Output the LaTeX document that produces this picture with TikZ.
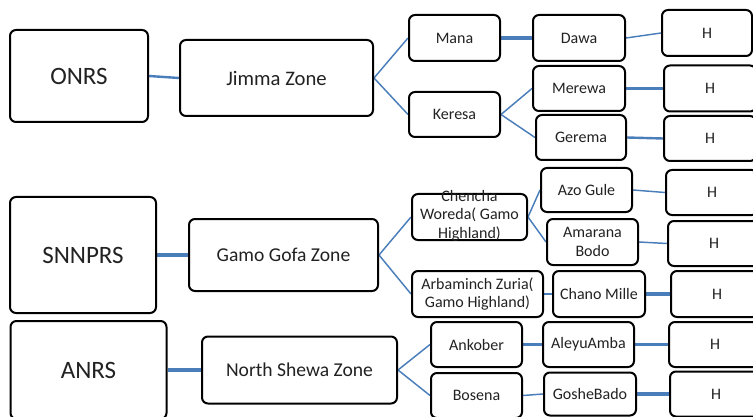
\documentclass[tikz,border=0pt]{standalone}
\usepackage{fontspec}
\setmainfont{Carlito}
\usetikzlibrary{backgrounds}
\definecolor{link}{RGB}{74,126,187}
\definecolor{ink}{RGB}{34,34,34}
\begin{document}
\begin{tikzpicture}[x=0.75pt,y=-0.75pt,
  box/.style={draw=black, line width=1.5pt, rounded corners=4.5pt, fill=white,
    inner sep=0pt, text=ink, align=center, font=\fontsize{12}{13.9}\selectfont},
  sz/.style 2 args={minimum width=#1*0.75pt, minimum height=#2*0.75pt},
  region/.style={font=\fontsize{18.75}{22}\selectfont},
  zone/.style={font=\fontsize{14.7}{17}\selectfont},
  lbl/.style={inner sep=0pt, text=ink, align=center, font=\fontsize{12}{13.9}\selectfont},
  thin/.style={draw=link, line width=1.1pt},
  mid/.style={draw=link, line width=1.8pt},
  wide/.style={draw=link, line width=2.6pt}]
\useasboundingbox (0,0) rectangle (753,417);
\clip (0,0) rectangle (753,417);

% --- ONRS branch
\node[box, region, sz={138}{92}] (onrs) at (79,76) {ONRS};
\node[box, zone, sz={193}{76}, font=\fontsize{15.5}{18}\selectfont] (jimma) at (276.5,78) {Jimma Zone};
\node[box, sz={91}{46}] (mana) at (454.5,38) {Mana};
\node[box, sz={92}{46}] (dawa) at (579,38) {Dawa};
\node[box, sz={90}{46}] (h1) at (707,33) {H};
\node[box, sz={91}{45}] (keresa) at (454.5,114.5) {Keresa};
\node[box, sz={92}{45}] (merewa) at (579,88.5) {Merewa};
\node[box, sz={90}{45}] (gerema) at (581,137.5) {Gerema};
\node[box, sz={92}{46}] (h2) at (710,88.5) {H};
\node[box, sz={92}{45}] (h3) at (710,138.5) {H};

% --- SNNPRS branch
\node[box, region, sz={146}{116}] (snnprs) at (83,255) {SNNPRS};
\node[box, zone, sz={189}{72}] (gamo) at (283.5,255) {Gamo Gofa Zone};
\node[box, sz={115}{46}] (chencha) at (469.5,217) {};
\node[lbl] (chenchatxt) at (469.5,215.5) {Chencha\\Woreda( Gamo\\Highland)};
\node[box, sz={91}{44}] (azo) at (586.5,190) {Azo Gule};
\node[box, sz={92}{45}] (h4) at (712,192.5) {H};
\node[box, sz={91}{46}] (amarana) at (592.5,242) {Amarana\\Bodo};
\node[box, sz={92}{45}] (h5) at (714,243.5) {H};
\node[box, sz={131}{46}] (arba) at (477.5,294) {Arbaminch Zuria(\\Gamo Highland)};
\node[box, sz={92}{46}] (chano) at (599,294) {Chano Mille};
\node[box, sz={92}{46}] (h6) at (717,294) {H};

% --- ANRS branch
\node[box, region, sz={156}{98}] (anrs) at (88.5,370) {ANRS};
\node[box, zone, sz={195}{67}] (shewa) at (299.5,370) {North Shewa Zone};
\node[box, sz={91}{45}] (ankober) at (476.5,344.5) {Ankober};
\node[box, sz={91}{45}] (aleyu) at (588.5,344.5) {AleyuAmba};
\node[box, sz={92}{45}] (h7) at (715,344.5) {H};
\node[box, sz={91}{45}] (bosena) at (476.5,395.5) {Bosena};
\node[box, sz={92}{43}] (goshe) at (590,394) {GosheBado};
\node[box, sz={92}{45}] (h8) at (716,394) {H};

\begin{pgfonlayer}{background}
  % ONRS
  \draw[mid] (onrs.east) -- (jimma.west);
  \draw[thin] (jimma.east) -- (mana.west);
  \draw[thin] (jimma.east) -- (keresa.west);
  \draw[wide] (mana.east) -- (dawa.west);
  \draw[thin] (dawa.east) -- (h1.west);
  \draw[thin] (keresa.east) -- (merewa.west);
  \draw[thin] (keresa.east) -- (gerema.west);
  \draw[wide] (merewa.east) -- (h2.west);
  \draw[mid] (gerema.east) -- (h3.west);
  % SNNPRS
  \draw[wide] (snnprs.east) -- (gamo.west);
  \draw[thin] (gamo.east) -- (chencha.west);
  \draw[thin] (gamo.east) -- (arba.west);
  \draw[thin] (chencha.east) -- (azo.west);
  \draw[thin] (chencha.east) -- (amarana.west);
  \draw[thin] (azo.east) -- (h4.west);
  \draw[thin] (amarana.east) -- (h5.west);
  \draw[mid] (arba.east) -- (chano.west);
  \draw[wide] (chano.east) -- (h6.west);
  % ANRS
  \draw[wide] (anrs.east) -- (shewa.west);
  \draw[thin] (shewa.east) -- (ankober.west);
  \draw[thin] (shewa.east) -- (bosena.west);
  \draw[wide] (ankober.east) -- (aleyu.west);
  \draw[wide] (aleyu.east) -- (h7.west);
  \draw[thin] (bosena.east) -- (goshe.west);
  \draw[wide] (goshe.east) -- (h8.west);
\end{pgfonlayer}
\end{tikzpicture}
\end{document}
